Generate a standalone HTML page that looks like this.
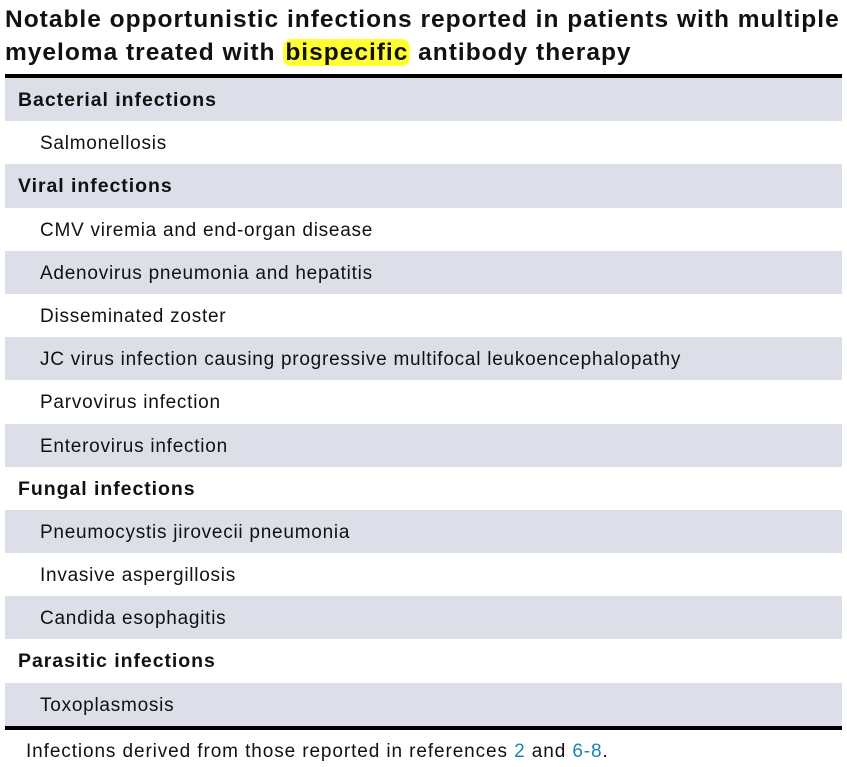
<!DOCTYPE html>
<html><head><meta charset="utf-8"><style>
body{margin:0;width:847px;height:767px;background:#fff;font-family:"Liberation Sans",Arial,sans-serif;color:#111;position:relative;overflow:hidden}
.title{position:absolute;left:5px;top:3px;width:842px;font-weight:bold;font-size:24.5px;line-height:33px;letter-spacing:1px;white-space:nowrap}
.hl{background:#ffff33;border-radius:8px;padding:0 2px}
.tbl{position:absolute;left:5px;top:74px;width:837px;border-top:4px solid #000;border-bottom:4px solid #000}
.row{height:43.2px;line-height:45px;font-size:19px;white-space:nowrap;letter-spacing:0.75px}
.row.s{background:#dcdfe8}
.row.h{font-weight:bold;padding-left:13px;font-size:19.5px;letter-spacing:0.95px}
.row.i{padding-left:35px}
.foot{position:absolute;left:26px;top:741px;font-size:19px;letter-spacing:0.9px}
.foot a{color:#1f82b0;text-decoration:none}
</style></head><body>
<div class="title">Notable opportunistic infections reported in patients with multiple<br>myeloma treated with <span class="hl">bispecific</span> antibody therapy</div>
<div class="tbl">
<div class="row s h">Bacterial infections</div>
<div class="row i">Salmonellosis</div>
<div class="row s h">Viral infections</div>
<div class="row i">CMV viremia and end-organ disease</div>
<div class="row s i">Adenovirus pneumonia and hepatitis</div>
<div class="row i">Disseminated zoster</div>
<div class="row s i">JC virus infection causing progressive multifocal leukoencephalopathy</div>
<div class="row i">Parvovirus infection</div>
<div class="row s i">Enterovirus infection</div>
<div class="row h">Fungal infections</div>
<div class="row s i">Pneumocystis jirovecii pneumonia</div>
<div class="row i">Invasive aspergillosis</div>
<div class="row s i">Candida esophagitis</div>
<div class="row h">Parasitic infections</div>
<div class="row s i">Toxoplasmosis</div>
</div>
<div class="foot">Infections derived from those reported in references <a href="#">2</a> and <a href="#">6-8</a>.</div>
</body></html>
